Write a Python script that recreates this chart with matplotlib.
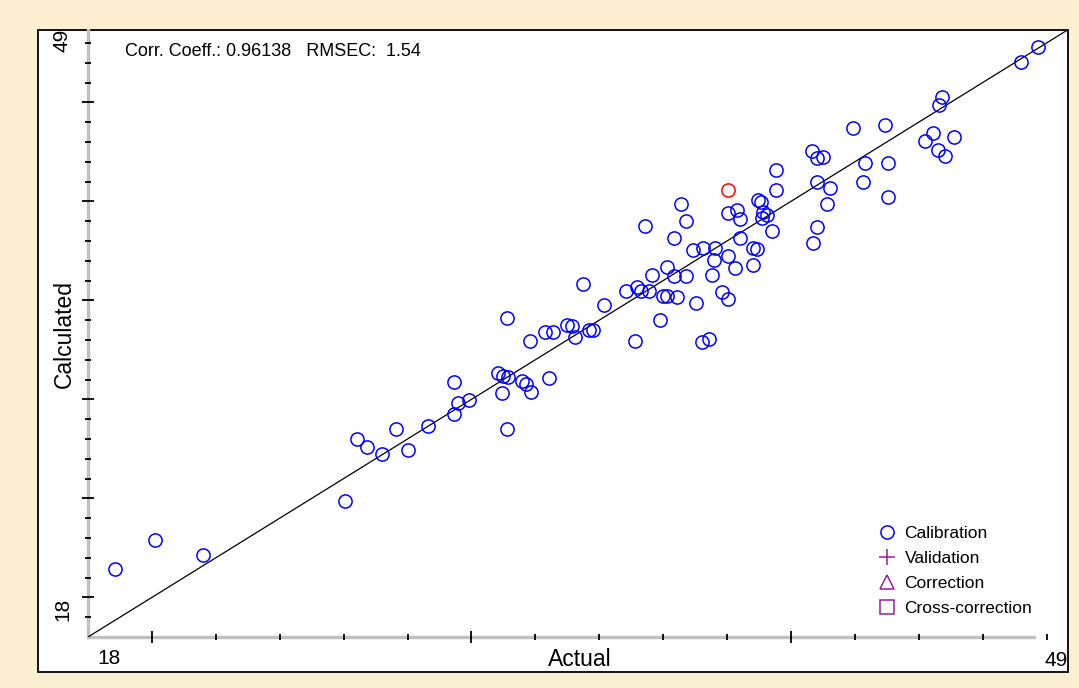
import numpy as np
import matplotlib.pyplot as plt
from matplotlib.lines import Line2D
from matplotlib.patches import Rectangle

plt.rcParams['font.family'] = ['Liberation Sans', 'DejaVu Sans']

# Actual vs calculated values (calibration set)
actual = [18.85, 20.10, 21.60, 26.04, 31.10, 31.83, 32.30, 32.56, 33.14, 29.46,
          30.84, 31.00, 31.16, 30.95, 31.57, 31.70, 31.86, 32.44, 29.59, 29.93,
          29.46, 31.10, 27.64, 28.65, 26.41, 26.74, 27.21, 28.01,
          36.55, 36.71, 35.43, 36.34, 36.93, 37.24, 36.11, 35.64, 36.35, 36.72,
          33.50, 34.84, 35.19, 35.30, 35.57, 36.01, 36.13, 36.45, 37.03, 34.15,
          35.90, 32.98, 33.24, 33.69, 33.82, 35.12, 37.21, 37.44,
          40.65, 40.81, 41.01, 39.53, 39.53, 40.81, 41.22, 41.12, 38.98, 39.06,
          38.04, 38.30, 38.41, 39.14, 39.24, 39.08, 39.40, 40.81, 40.70, 38.41,
          37.63, 38.04, 37.59, 38.25, 38.82, 38.93, 38.82, 37.52, 37.83, 38.04,
          44.72, 44.65, 41.94, 42.95, 44.44, 45.11, 44.20, 44.61, 44.82, 42.32,
          43.05, 42.25, 43.05, 47.20, 47.74]
calculated = [21.43, 22.90, 22.14, 24.87, 34.10, 32.96, 33.39, 33.39, 33.71, 30.89,
              31.35, 31.18, 31.15, 30.34, 30.93, 30.78, 30.36, 31.06, 29.80, 29.97,
              29.25, 28.50, 28.49, 28.66, 27.98, 27.61, 27.23, 27.44,
              39.87, 38.99, 38.76, 38.13, 37.54, 37.63, 36.70, 36.28, 36.23, 36.23,
              35.81, 35.49, 35.69, 35.49, 35.49, 35.22, 35.22, 35.15, 34.85, 34.77,
              34.01, 33.76, 33.17, 33.50, 33.50, 32.96, 32.91, 33.03,
              42.56, 42.17, 42.22, 41.58, 40.57, 40.99, 40.66, 39.87, 40.07, 39.98,
              39.43, 39.56, 39.09, 39.48, 39.31, 39.14, 38.52, 38.69, 37.88, 38.13,
              37.63, 37.24, 37.04, 36.62, 37.63, 37.58, 36.79, 36.28, 35.44, 35.05,
              45.26, 44.87, 43.69, 43.86, 43.47, 43.23, 43.05, 42.59, 42.29, 41.92,
              41.92, 40.99, 40.24, 47.04, 47.80]

# flagged sample
flag_actual = [38.04]
flag_calculated = [40.57]

corr_coeff = 0.96138
rmsec = 1.54
axis_min, axis_max = 18, 49

W, H = 1079, 688
fig = plt.figure(figsize=(W / 100, H / 100), dpi=100)
fig.patch.set_facecolor('#fdf0d2')

# white panel with black frame
fig.patches.append(Rectangle((38 / W, 1 - 672 / H), (1068 - 38) / W, (672 - 30) / H,
                             transform=fig.transFigure, facecolor='white',
                             edgecolor='black', linewidth=1.3, zorder=-5))

ax = fig.add_axes([88 / W, 1 - 637 / H, 980 / W, 607 / H])
ax.set_facecolor('none')
ax.set_zorder(1)

ax.plot([axis_min, axis_max], [axis_min, axis_max], color='black', linewidth=0.9)
ax.plot(actual, calculated, linestyle='none', marker='o', markersize=9.5,
        markerfacecolor='none', markeredgecolor='#0000ff', markeredgewidth=1.1)
ax.plot(flag_actual, flag_calculated, linestyle='none', marker='o', markersize=9.5,
        markerfacecolor='none', markeredgecolor='#ff0000', markeredgewidth=1.1)

ax.set_xlim(18, 18 + 980 / 31.95)
ax.set_ylim(18, 18 + 607 / 19.8)

ax.set_xticks([20, 30, 40])
ax.set_xticks(np.arange(20, 49, 2), minor=True)
ax.set_yticks([20, 25, 30, 35, 40, 45])
ax.set_yticks(np.arange(19, 49, 1), minor=True)
ax.set_xticklabels([])
ax.set_yticklabels([])

for s in ['top', 'right']:
    ax.spines[s].set_visible(False)
for s in ['left', 'bottom']:
    ax.spines[s].set_color('#c0c0c0')
    ax.spines[s].set_linewidth(2.4)
    ax.spines[s].set_zorder(0.5)
ax.spines['bottom'].set_bounds(18, 47.6)
ax.tick_params(which='major', direction='inout', length=9, width=1.3, color='black')
ax.tick_params(which='minor', direction='inout', length=4, width=1.3, color='black')

# axis end labels and titles
fig.text(109 / W, 1 - 659 / H, str(axis_min), fontsize=15, ha='center', va='center')
fig.text(1056 / W, 1 - 660 / H, str(axis_max), fontsize=15, ha='center', va='center')
fig.text(63 / W, 1 - 609 / H, str(axis_min), fontsize=15, ha='center', va='center', rotation=90)
fig.text(62 / W, 1 - 40 / H, str(axis_max), fontsize=15, ha='center', va='center', rotation=90)
fig.text(580 / W, 1 - 659 / H, 'Actual', fontsize=16.5, ha='center', va='center')
fig.text(64 / W, 1 - 334 / H, 'Calculated', fontsize=16.5, ha='center', va='center', rotation=90)

fig.text(125 / W, 1 - 52 / H, f'Corr. Coeff.: {corr_coeff:.5f}   RMSEC:  {rmsec:.2f}',
         fontsize=13, ha='left', va='center')

purple = '#962096'
handles = [
    Line2D([], [], linestyle='none', marker='o', markersize=9.5, markerfacecolor='none',
           markeredgecolor='#0000ff', markeredgewidth=1.1, label='Calibration'),
    Line2D([], [], linestyle='none', marker='+', markersize=11, color=purple,
           markeredgewidth=1.1, label='Validation'),
    Line2D([], [], linestyle='none', marker='^', markersize=10.5, markerfacecolor='none',
           markeredgecolor=purple, markeredgewidth=1.1, label='Correction'),
    Line2D([], [], linestyle='none', marker='s', markersize=9.5, markerfacecolor='none',
           markeredgecolor=purple, markeredgewidth=1.1, label='Cross-correction'),
]
fig.legend(handles=handles, loc='upper left', bbox_to_anchor=(878 / W, 1 - 526 / H),
           frameon=False, fontsize=12.5, handlelength=1.0, handletextpad=0.53,
           labelspacing=0.56, borderpad=0, borderaxespad=0)

fig.savefig('out.png', dpi=100, facecolor=fig.get_facecolor())
